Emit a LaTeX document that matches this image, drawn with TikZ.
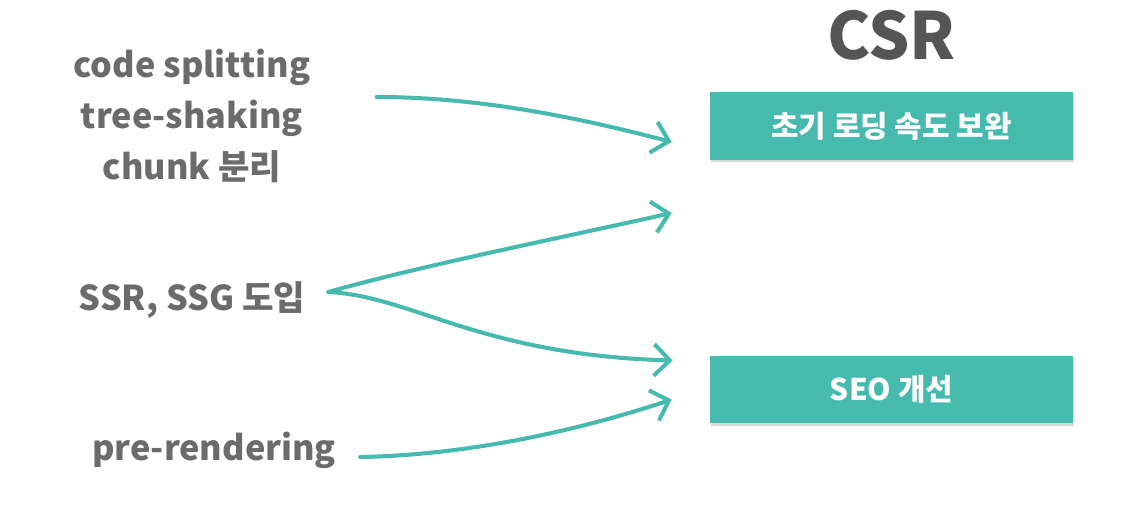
\documentclass[tikz,border=0pt]{standalone}
\usepackage{fontspec}
\setmainfont{Noto Sans CJK KR}
\usetikzlibrary{arrows.meta,positioning,calc,shadows}
\definecolor{teal}{HTML}{46BBAD}
\definecolor{txtgray}{HTML}{6B6B6B}
\definecolor{titlegray}{HTML}{555555}

\begin{document}
\begin{tikzpicture}[%
    x=0.02cm, y=-0.02cm,
    >={Straight Barb[length=9pt, width=18pt]},
    goal/.style={rectangle, fill=teal, text=white, minimum width=7.26cm, minimum height=1.36cm,
      font=\fontsize{17pt}{20pt}\selectfont\bfseries,
      drop shadow={shadow xshift=0.6pt, shadow yshift=-1.4pt, opacity=0.3}},
    tech/.style={text=txtgray, align=center, font=\fontsize{19.5pt}{29pt}\selectfont\bfseries},
    flow/.style={->, teal, line width=2.3pt, line cap=round, line join=round},
  ]
  \useasboundingbox[fill=white] (0,0) rectangle (1126,506);

  % --- goals (right) ---
  \node[goal] (load) at (891.5,126) {초기 로딩 속도 보완};
  \node[goal] (seo) at (891.5,389.5) {SEO 개선};
  \node[text=titlegray, font=\fontsize{37pt}{40pt}\selectfont\bfseries, above=0.5cm of load] (csr) {CSR};

  % --- techniques (left) ---
  \node[tech] (bundle) at (192,116) {code splitting\\tree-shaking\\chunk 분리};
  \node[tech] (ssr) at (192,300) {SSR, SSG 도입};
  \node[tech] (pre) at (214,450) {pre-rendering};

  % arrow ends
  \coordinate (fork) at ($(ssr.east)+(17,-8)$);
  \coordinate (tipA) at ($(load.west)+(-38,16)$);
  \coordinate (tipB) at ($(load.west)+(-38,87)$);
  \coordinate (tipC) at ($(seo.west)+(-37,-29)$);
  \coordinate (tipD) at ($(seo.west)+(-38,10)$);

  \draw[flow] ($(bundle.east)+(60,-19)$) .. controls (480,97) and (580,118) .. (tipA);
  \draw[flow] (fork) .. controls (420,266) and (560,238) .. (tipB);
  \draw[flow] (fork) .. controls (412,296) and (480,355) .. (tipC);
  \draw[flow] ($(pre.east)+(18,7)$) .. controls (470,455) and (580,430) .. (tipD);
\end{tikzpicture}
\end{document}
